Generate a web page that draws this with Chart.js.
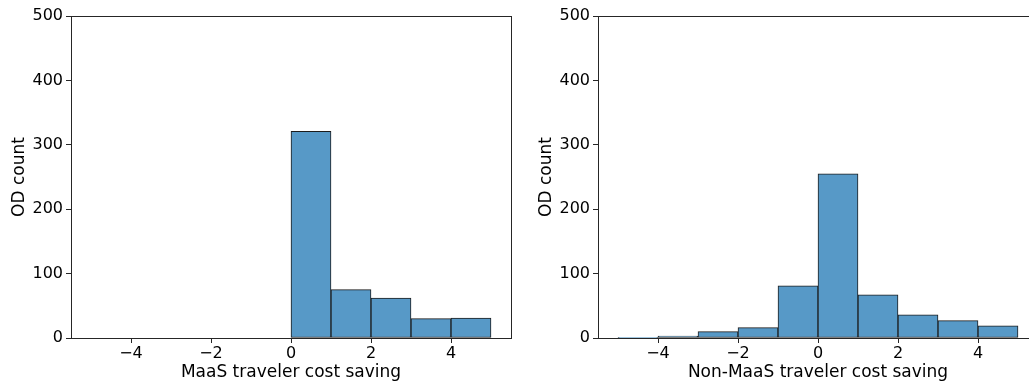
<!DOCTYPE html>
<html>
<head>
<meta charset="utf-8">
<script src="https://cdn.jsdelivr.net/npm/chart.js@4.4.1/dist/chart.umd.min.js"></script>
<style>
  html, body { margin: 0; padding: 0; background: #fff; overflow: hidden; width: 1029px; height: 381px; }
  .panel { position: absolute; top: 0; }
</style>
</head>
<body>
<div class="panel" style="left:0px;"><canvas id="c1" width="520" height="381"></canvas></div>
<div class="panel" style="left:520px;"><canvas id="c2" width="520" height="381"></canvas></div>
<script>
const binStarts = [-5, -4, -3, -2, -1, 0, 1, 2, 3, 4];
const maasCounts = [0, 0, 0, 0, 0, 321, 75, 62, 30, 31];
const nonMaasCounts = [1, 3, 10, 16, 81, 255, 67, 36, 27, 19];
const xTickValues = [-4, -2, 0, 2, 4];
const yTickValues = [0, 100, 200, 300, 400, 500];
const xLabelMaaS = 'MaaS traveler cost saving';
const xLabelNonMaaS = 'Non-MaaS traveler cost saving';
const yLabel = 'OD count';

const FONT = 'DejaVu Sans';
const INK = '#000000';
const SPINE = '#262626';

const frame = {
  id: 'frame',
  afterDatasetsDraw(chart) {
    const a = chart.chartArea, ctx = chart.ctx;
    ctx.save();
    ctx.strokeStyle = SPINE;
    ctx.lineWidth = 1;
    ctx.strokeRect(Math.round(a.left) + 0.5, Math.round(a.top) + 0.5,
                   Math.round(a.right - a.left), Math.round(a.bottom - a.top));
    ctx.restore();
  }
};

function makeChart(id, counts, xTitle, yAxisWidth, yTitlePad, rightPad) {
  const data = binStarts.map((s, i) => ({ x: s + 0.5, y: counts[i] }));
  return new Chart(document.getElementById(id), {
    type: 'bar',
    data: {
      datasets: [{
        data: data,
        backgroundColor: 'rgb(87,153,199)',
        borderColor: '#1c1c1c',
        borderWidth: 1,
        borderSkipped: false,
        barPercentage: 1,
        categoryPercentage: 1
      }]
    },
    options: {
      responsive: false,
      animation: false,
      devicePixelRatio: 1,
      layout: { padding: { left: 0, right: rightPad, top: 16, bottom: 0 } },
      plugins: { legend: { display: false }, tooltip: { enabled: false } },
      scales: {
        x: {
          type: 'linear',
          min: -5.5,
          max: 5.5,
          offset: false,
          afterBuildTicks(scale) { scale.ticks = xTickValues.map(v => ({ value: v })); },
          afterFit(scale) { scale.height = 43; },
          grid: { display: true, offset: false, drawOnChartArea: false, drawTicks: true, tickLength: 5, color: SPINE, lineWidth: 1 },
          border: { display: true, color: SPINE, width: 1 },
          ticks: {
            color: INK, padding: 1, maxRotation: 0, autoSkip: false,
            font: { family: FONT, size: 16 },
            callback: v => String(v).replace('-', '\u2212')
          },
          title: {
            display: true, text: xTitle, color: INK,
            font: { family: FONT, size: 17 },
            padding: { top: 0, bottom: -2 }
          }
        },
        y: {
          type: 'linear',
          min: 0,
          max: 500,
          afterBuildTicks(scale) { scale.ticks = yTickValues.map(v => ({ value: v })); },
          afterFit(scale) { scale.width = yAxisWidth; },
          grid: { display: true, drawOnChartArea: false, drawTicks: true, tickLength: 5, color: SPINE, lineWidth: 1 },
          border: { display: true, color: SPINE, width: 1 },
          ticks: {
            color: INK, padding: 3, autoSkip: false,
            font: { family: FONT, size: 16 }
          },
          title: {
            display: true, text: yLabel, color: INK,
            font: { family: FONT, size: 17 },
            padding: { top: yTitlePad, bottom: 0 }
          }
        }
      }
    },
    plugins: [frame]
  });
}

makeChart('c1', maasCounts, xLabelMaaS, 71, 9, 9);
makeChart('c2', nonMaasCounts, xLabelNonMaaS, 78, 16, 2);
</script>
</body>
</html>
